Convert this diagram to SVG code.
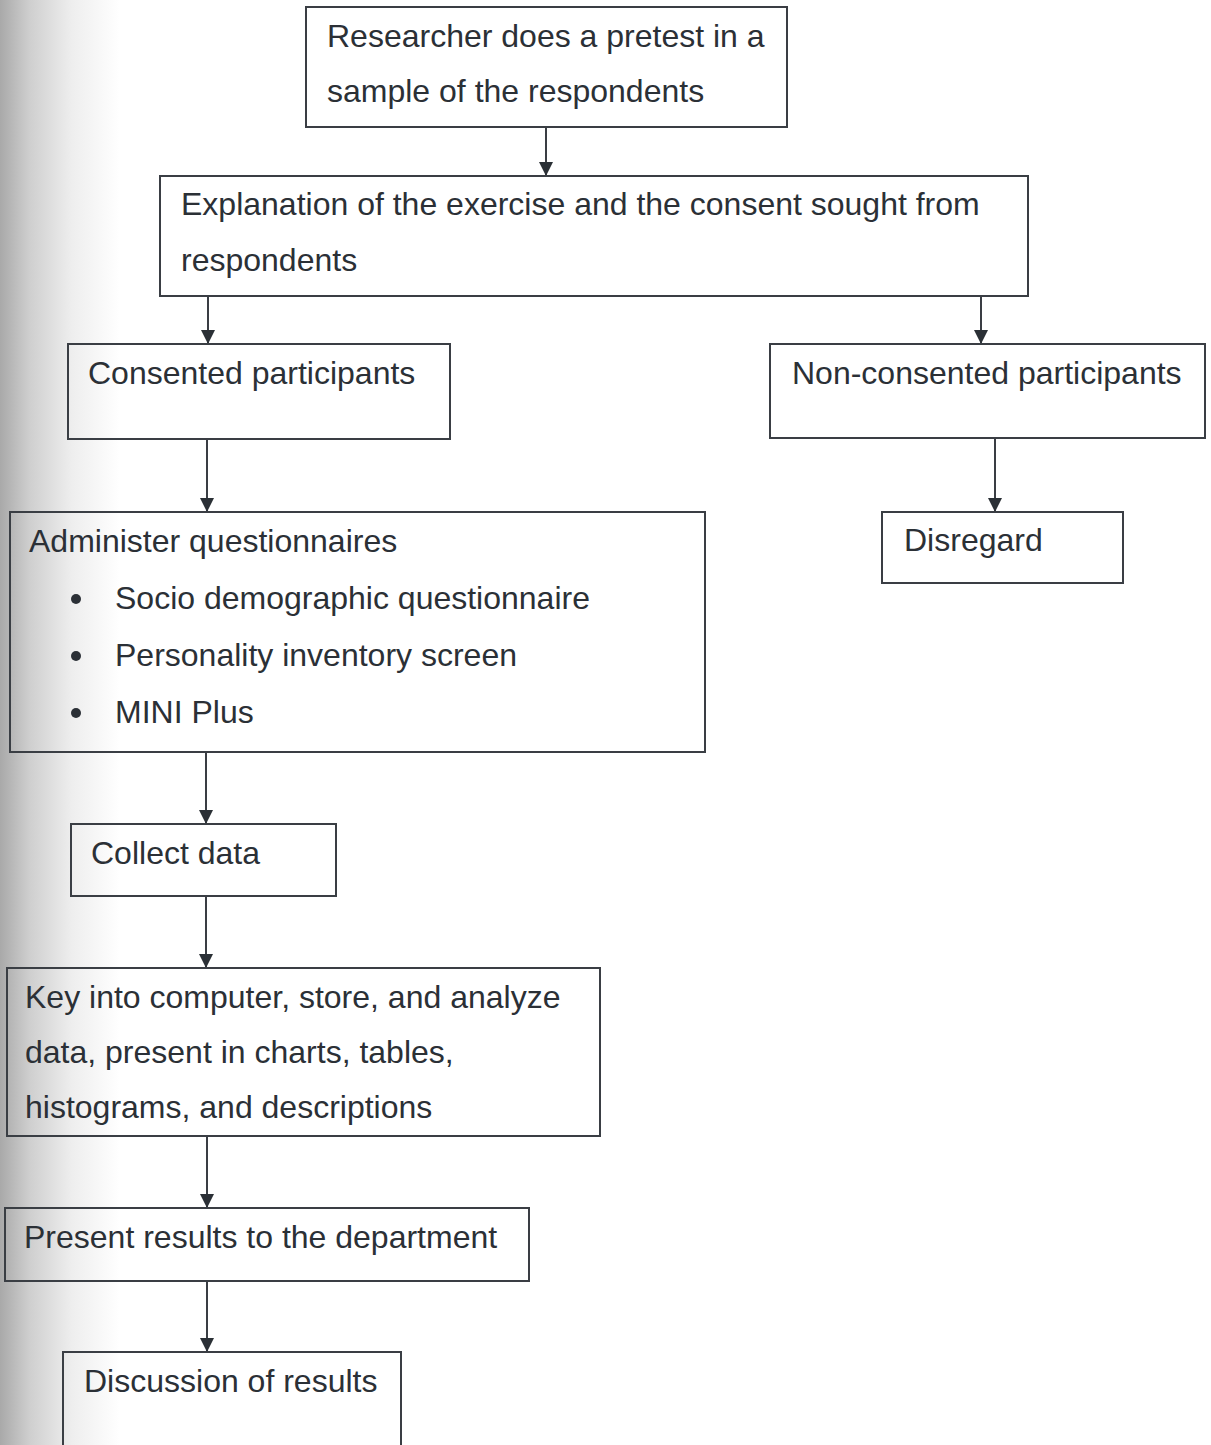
<svg xmlns="http://www.w3.org/2000/svg" width="1211" height="1445" viewBox="0 0 1211 1445">
<style>
.box{fill:none;stroke:#3a3e44;stroke-width:2}
.t{font-family:"Liberation Sans",Arial,sans-serif;font-size:32px;fill:#2b3036}
.c{stroke:#3a3e44;stroke-width:2;fill:none;marker-end:url(#ah)}
</style>
<defs>
<marker id="ah" viewBox="0 0 14 14" refX="14" refY="7" markerWidth="14" markerHeight="14" markerUnits="userSpaceOnUse" orient="auto">
<path d="M0,0 L14,7 L0,14 Z" fill="#2b3036"/>
</marker>
<linearGradient id="edge" x1="0" y1="0" x2="1" y2="0">
<stop offset="0" stop-color="#a9a9a9"/>
<stop offset="0.25" stop-color="#cfcfcf"/>
<stop offset="0.6" stop-color="#eeeeee"/>
<stop offset="1" stop-color="#ffffff"/>
</linearGradient>
</defs>
<rect x="0" y="0" width="1211" height="1445" fill="#ffffff"/>
<rect x="0" y="0" width="120" height="1445" fill="url(#edge)"/>
<g id="connectors">
<line class="c" x1="546" y1="127" x2="546" y2="176"/>
<line class="c" x1="208" y1="296" x2="208" y2="344"/>
<line class="c" x1="981" y1="296" x2="981" y2="344"/>
<line class="c" x1="995" y1="438" x2="995" y2="512"/>
<line class="c" x1="207" y1="439" x2="207" y2="512"/>
<line class="c" x1="206" y1="752" x2="206" y2="824"/>
<line class="c" x1="206" y1="896" x2="206" y2="968"/>
<line class="c" x1="207" y1="1136" x2="207" y2="1208"/>
<line class="c" x1="207" y1="1281" x2="207" y2="1352"/>
</g>
<g id="pretest">
<rect class="box" x="306" y="7" width="481" height="120"/>
<text class="t" x="327" y="47">Researcher does a pretest in a</text>
<text class="t" x="327" y="102">sample of the respondents</text>
</g>
<g id="explanation">
<rect class="box" x="160" y="176" width="868" height="120"/>
<text class="t" x="181" y="215">Explanation of the exercise and the consent sought from</text>
<text class="t" x="181" y="271">respondents</text>
</g>
<g id="consented">
<rect class="box" x="68" y="344" width="382" height="95"/>
<text class="t" x="88" y="384">Consented participants</text>
</g>
<g id="nonconsented">
<rect class="box" x="770" y="344" width="435" height="94"/>
<text class="t" x="792" y="384">Non-consented participants</text>
</g>
<g id="disregard">
<rect class="box" x="882" y="512" width="241" height="71"/>
<text class="t" x="904" y="551">Disregard</text>
</g>
<g id="administer">
<rect class="box" x="10" y="512" width="695" height="240"/>
<text class="t" x="29" y="552">Administer questionnaires</text>
<circle cx="76" cy="599" r="5" fill="#2b3036"/>
<text class="t" x="115" y="609">Socio demographic questionnaire</text>
<circle cx="76" cy="656" r="5" fill="#2b3036"/>
<text class="t" x="115" y="666">Personality inventory screen</text>
<circle cx="76" cy="713" r="5" fill="#2b3036"/>
<text class="t" x="115" y="723">MINI Plus</text>
</g>
<g id="collect">
<rect class="box" x="71" y="824" width="265" height="72"/>
<text class="t" x="91" y="864">Collect data</text>
</g>
<g id="keyinto">
<rect class="box" x="7" y="968" width="593" height="168"/>
<text class="t" x="25" y="1008">Key into computer, store, and analyze</text>
<text class="t" x="25" y="1063">data, present in charts, tables,</text>
<text class="t" x="25" y="1118">histograms, and descriptions</text>
</g>
<g id="present">
<rect class="box" x="5" y="1208" width="524" height="73"/>
<text class="t" x="24" y="1248">Present results to the department</text>
</g>
<g id="discussion">
<rect class="box" x="63" y="1352" width="338" height="110"/>
<text class="t" x="84" y="1392">Discussion of results</text>
</g>
</svg>
